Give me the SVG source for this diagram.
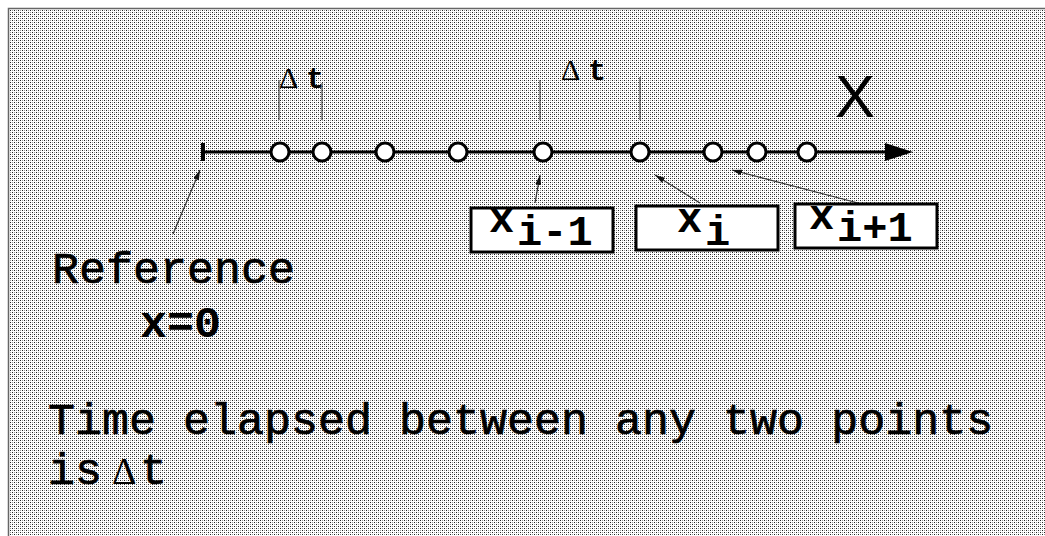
<svg xmlns="http://www.w3.org/2000/svg" width="1045" height="536" viewBox="0 0 1045 536">
  <defs>
    <pattern id="dots" x="0" y="0" width="4" height="4" patternUnits="userSpaceOnUse">
      <rect width="4" height="4" fill="#ffffff"/>
      <rect x="0" y="0" width="1" height="1" fill="#222"/>
      <rect x="2" y="2" width="1" height="1" fill="#222"/>
      <rect x="2" y="0" width="1" height="1" fill="#999"/>
      <rect x="0" y="2" width="1" height="1" fill="#999"/>
    </pattern>
    <marker id="ah" viewBox="0 0 10 6" refX="10" refY="3" markerWidth="10" markerHeight="6" markerUnits="userSpaceOnUse" orient="auto">
      <path d="M0,0 L10,3 L0,6 z" fill="#111"/>
    </marker>
    <marker id="bigah" viewBox="0 0 28 18" refX="2" refY="9" markerWidth="28" markerHeight="18" markerUnits="userSpaceOnUse" orient="auto">
      <path d="M0,0 L28,9 L0,18 z" fill="#000"/>
    </marker>
  </defs>
  <style>
    .mono { font-family: "Liberation Mono", "Courier New", monospace; fill: #000; }
    .big { font-size: 45px; stroke: #000; stroke-width: 0.7px; }
    .b { font-weight: bold; stroke-width: 0; }
    .lbl { font-size: 42px; font-weight: bold; }
    .serif { font-family: "Liberation Serif", "Times New Roman", serif; fill: #000; }
    .sans { font-family: "Liberation Sans", Arial, sans-serif; fill: #000; }
    .box { fill: #fff; stroke: #000; stroke-width: 3; }
    .pt { fill: #fff; stroke: #000; stroke-width: 3; }
    .tick { stroke: #222; stroke-width: 1; }
    .ptr { stroke: #333; stroke-width: 1.2; fill: none; marker-end: url(#ah); }
  </style>

  <rect x="0" y="0" width="1045" height="536" fill="#fff"/>
  <rect x="9" y="9" width="1036" height="527" fill="url(#dots)"/>
  <path d="M8.5,536 V8.5 H1045" fill="none" stroke="#666" stroke-width="1.5"/>

  <g id="connectors">
    <line x1="203" y1="152" x2="887" y2="152" stroke="#000" stroke-width="3" marker-end="url(#bigah)"/>
    <line x1="203" y1="143" x2="203" y2="161" stroke="#000" stroke-width="4"/>
    <line class="ptr" x1="173" y1="234" x2="200" y2="170"/>
    <line class="ptr" x1="535" y1="203" x2="540" y2="175"/>
    <line class="ptr" x1="700" y1="203" x2="655" y2="175"/>
    <line class="ptr" x1="858" y1="203" x2="732" y2="170"/>
    <line class="tick" x1="279" y1="80" x2="279" y2="120"/>
    <line class="tick" x1="322" y1="83" x2="322" y2="120"/>
    <line class="tick" x1="540" y1="80" x2="540" y2="120"/>
    <line class="tick" x1="640" y1="77" x2="640" y2="120"/>
  </g>

  <g id="points">
    <circle class="pt" cx="280" cy="152" r="9"/>
    <circle class="pt" cx="322" cy="152" r="9"/>
    <circle class="pt" cx="385" cy="152" r="9"/>
    <circle class="pt" cx="458" cy="152" r="9"/>
    <circle class="pt" cx="543" cy="152" r="9"/>
    <circle class="pt" cx="640" cy="152" r="9"/>
    <circle class="pt" cx="713" cy="152" r="9"/>
    <circle class="pt" cx="757" cy="152" r="9"/>
    <circle class="pt" cx="807" cy="152" r="9"/>
  </g>

  <g id="axis-label">
    <text class="sans" x="835" y="117" font-size="60">X</text>
  </g>

  <g id="dt1">
    <text x="279" y="88"><tspan class="serif" font-size="30">Δ</tspan><tspan class="mono" font-size="30" font-weight="bold" x="306">t</tspan></text>
  </g>
  <g id="dt2">
    <text x="561" y="80"><tspan class="serif" font-size="30">Δ</tspan><tspan class="mono" font-size="30" font-weight="bold" x="588">t</tspan></text>
  </g>

  <g id="box-xim1">
    <rect class="box" x="471" y="208" width="142" height="44"/>
    <text class="mono lbl" x="489" y="232">x</text>
    <text class="mono lbl" x="517" y="245">i-1</text>
  </g>
  <g id="box-xi">
    <rect class="box" x="636" y="206" width="142" height="44"/>
    <text class="mono lbl" x="677" y="232">x</text>
    <text class="mono lbl" x="705" y="245">i</text>
  </g>
  <g id="box-xip1">
    <rect class="box" x="795" y="204" width="142" height="44"/>
    <text class="mono lbl" x="809" y="229">x</text>
    <text class="mono lbl" x="837" y="241">i+1</text>
  </g>

  <g id="reference">
    <text class="mono big" x="52" y="283">Reference</text>
    <text class="mono big b" x="140" y="337">x=0</text>
  </g>

  <g id="note">
    <text class="mono big" x="48" y="434">Time elapsed between any two points</text>
    <text x="48" y="484"><tspan class="mono big">is</tspan><tspan class="serif" font-size="38" x="112">Δ</tspan><tspan class="mono big" x="140">t</tspan></text>
  </g>
</svg>
